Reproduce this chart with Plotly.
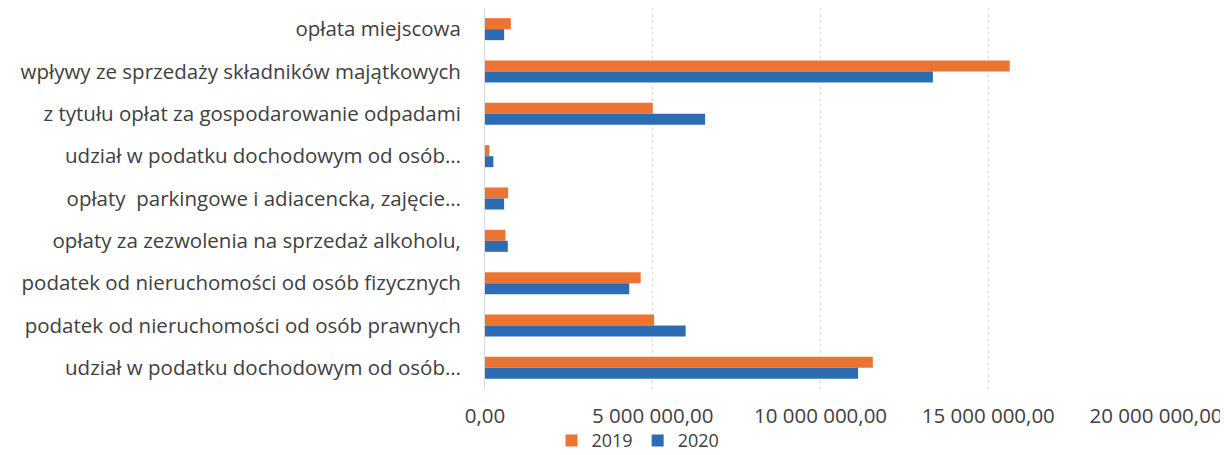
import plotly.graph_objects as go

categories = [
    "opłata miejscowa",
    "wpływy ze sprzedaży składników majątkowych",
    "z tytułu opłat za gospodarowanie odpadami",
    "udział w podatku dochodowym od osób…",
    "opłaty  parkingowe i adiacencka, zajęcie…",
    "opłaty za zezwolenia na sprzedaż alkoholu,",
    "podatek od nieruchomości od osób fizycznych",
    "podatek od nieruchomości od osób prawnych",
    "udział w podatku dochodowym od osób…",
]
values_2019 = [770000, 15640000, 5000000, 130000, 690000, 610000, 4640000, 5040000, 11560000]
values_2020 = [570000, 13350000, 6560000, 250000, 570000, 680000, 4300000, 5980000, 11120000]
x_ticks = [0, 5000000, 10000000, 15000000, 20000000]

positions = list(range(len(categories)))

fig = go.Figure()
fig.add_trace(go.Bar(name="2019", y=positions, x=values_2019, orientation="h",
                     marker=dict(color="#EC7432", line=dict(width=0))))
fig.add_trace(go.Bar(name="2020", y=positions, x=values_2020, orientation="h",
                     marker=dict(color="#2C6CB5", line=dict(width=0))))

fig.update_layout(
    width=1220, height=447,
    margin=dict(l=477, r=72, t=0, b=66, autoexpand=False),
    paper_bgcolor="white", plot_bgcolor="white",
    barmode="group", bargap=0.48, bargroupgap=0.0,
    separators=", ",
    font=dict(family="Open Sans", size=20.5, color="#404040"),
    legend=dict(orientation="h", x=0.228, xanchor="center", xref="paper",
                y=0.032, yanchor="middle", yref="container",
                font=dict(size=18), itemwidth=30, traceorder="normal",
                tracegroupgap=0, bgcolor="rgba(0,0,0,0)"),
    xaxis=dict(range=[0, 20000000], tickvals=x_ticks, tickformat=",.2f",
               showgrid=True, gridcolor="#dcdcdc", griddash="dot", gridwidth=1,
               zeroline=False, showline=False, ticks="outside", ticklen=8,
               tickcolor="rgba(0,0,0,0)", fixedrange=True, automargin=False),
    yaxis=dict(tickvals=positions, ticktext=categories,
               showgrid=False, zeroline=False, showline=True, linecolor="#d9d9d9",
               ticks="outside", ticklen=19, tickcolor="rgba(0,0,0,0)",
               range=[len(categories) - 0.5, -0.5], automargin=False),
)

fig.write_html("out.html")
